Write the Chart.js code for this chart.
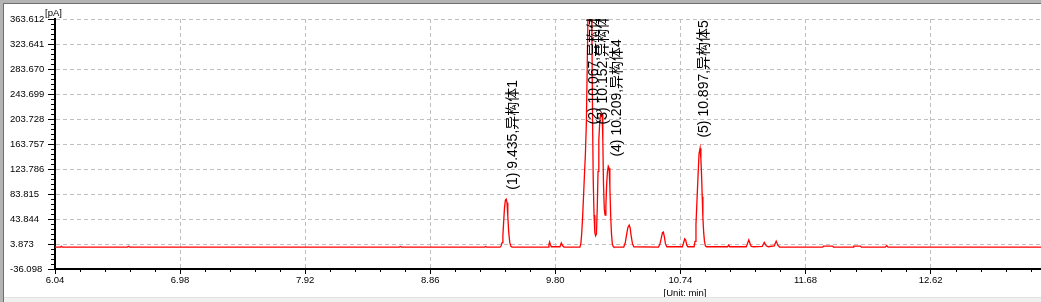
<!DOCTYPE html>
<html><head><meta charset="utf-8">
<script src="https://cdn.jsdelivr.net/npm/chart.js@4/dist/chart.umd.min.js"></script>
<style>
html,body{margin:0;padding:0;background:#fff;}
#wrap{position:relative;width:1041px;height:302px;overflow:hidden;background:#fff;}
canvas{position:absolute;left:0;top:0;}
.f{position:absolute;}
</style></head><body>
<div id="wrap">
<canvas id="c" width="1041" height="302"></canvas>
<div class="f" style="left:0;top:0;width:1041px;height:3px;background:#b4b4b4"></div>
<div class="f" style="left:0;top:3px;width:1041px;height:1px;background:#6e6e6e"></div>
<div class="f" style="left:0;top:0;width:3px;height:302px;background:#b4b4b4"></div>
<div class="f" style="left:3px;top:3px;width:1px;height:299px;background:#6e6e6e"></div>
<div class="f" style="left:4px;top:297px;width:1037px;height:1px;background:#e3e3e3"></div>
<div class="f" style="left:4px;top:298px;width:1037px;height:4px;background:#f0f0f0"></div>
</div>
<script>
// ---- data ----
const times = [6.040, 6.080, 6.087, 6.094, 6.585, 6.592, 6.600, 8.628, 8.636, 8.644, 9.268, 9.276, 9.284,
  9.385, 9.393, 9.400, 9.406, 9.412, 9.418, 9.425, 9.431, 9.437, 9.443, 9.450, 9.458, 9.466, 9.475,
  9.745, 9.752, 9.757, 9.763, 9.770, 9.835, 9.845, 9.855, 9.865,
  9.985, 9.992, 9.998, 10.005, 10.012, 10.019, 10.026, 10.033, 10.040, 10.046, 10.052, 10.058, 10.064, 10.070, 10.075, 10.080, 10.085, 10.091, 10.097, 10.103, 10.109,
  10.115, 10.121, 10.127, 10.134, 10.140, 10.146, 10.152, 10.157, 10.162, 10.168, 10.174, 10.180, 10.186, 10.192, 10.198, 10.204, 10.210, 10.216, 10.222, 10.228, 10.234, 10.240,
  10.314, 10.325, 10.335, 10.345, 10.355, 10.362, 10.370, 10.380, 10.390,
  10.575, 10.585, 10.595, 10.605, 10.612, 10.620, 10.628, 10.638,
  10.755, 10.763, 10.772, 10.780, 10.788, 10.796,
  10.843, 10.850, 10.857, 10.864, 10.872, 10.880, 10.888, 10.894, 10.899, 10.904, 10.909, 10.915, 10.921, 10.928, 10.936,
  11.095, 11.103, 11.111,
  11.235, 11.245, 11.254, 11.263, 11.272, 11.290, 11.355, 11.370, 11.385, 11.400, 11.445, 11.460, 11.472, 11.485,
  11.810, 11.815, 11.883, 11.890, 12.038, 12.043, 12.094, 12.100, 12.280, 12.290, 12.300, 13.450];
const signal = [-1.0, -1.0, 0.2, -1.0, -1.0, 0.2, -1.0, -1.0, 0.0, -1.0, -1.0, 0.0, -1.0,
  -1.0, 1, 6, 18, 40, 62, 74, 75.5, 70, 48, 22, 6, 0, -1.0,
  -1.0, 3, 7, 3, -0.5, -0.5, 5.5, 1, -1.0,
  -1.0, 5, 20, 46, 80, 115, 147, 195, 290, 380, 430, 440, 430, 400, 340, 200, 105, 50, 22, 17, 20,
  60, 120, 170, 200, 210, 214, 212, 170, 100, 60, 50, 65, 100, 120, 128, 125, 95, 50, 20, 5, 0, -1.0,
  -1.0, 5, 18, 30, 34, 30, 17, 4, -0.5,
  -1.0, 3, 12, 22, 23, 15, 4, -0.5,
  -0.5, 5, 12, 10, 2, -0.5,
  -0.5, 8, 35, 70, 110, 148, 157, 140, 115, 80, 46, 22, 8, 1, -0.5,
  -0.5, 2, -0.5,
  -0.5, 5, 10.5, 5, 0, -0.5, 0, 6.5, 1, -0.5, 1, 8.5, 2, -1.0,
  -1.0, 0.6, 0.6, -1.0, -1.0, 0.6, 0.6, -1.0, -1.0, 1.5, -1.0, -1.0];

const yTickLabels = ['-36.098', '3.873', '43.844', '83.815', '123.786', '163.757', '203.728', '243.699', '283.670', '323.641', '363.612'];
const xTickLabels = ['6.04', '6.98', '7.92', '8.86', '9.80', '10.74', '11.68', '12.62'];

const peakLabels = ['(1) 9.435,异构体1', '(2) 10.067,异构体2', '(3) 10.152,异构体3', '(4) 10.209,异构体4', '(5) 10.897,异构体5'];
const peakLabelTimes = [9.428, 10.039, 10.107, 10.212, 10.866];
const peakLabelValues = [90.8, 194.9, 194.9, 143.6, 174.0];

const X_MIN = 6.04, X_MAX = 13.45, Y_MIN = -36.098, Y_MAX = 363.612;
const Y_STEP = 39.971, X_STEP = 0.94;

const points = times.map((t, i) => ({x: t, y: signal[i]}));
const FONT = '"Liberation Sans", "Noto Sans CJK SC", sans-serif';

const decor = {
  id: 'decor',
  afterDatasetsDraw(chart) {
    const ctx = chart.ctx, a = chart.chartArea, xs = chart.scales.x, ys = chart.scales.y;
    ctx.save();
    ctx.beginPath();
    ctx.rect(a.left, a.top, a.right - a.left, a.bottom - a.top);
    ctx.clip();
    ctx.font = '14px ' + FONT;
    ctx.fillStyle = '#000';
    ctx.textAlign = 'left';
    ctx.textBaseline = 'top';
    peakLabels.forEach((txt, i) => {
      ctx.save();
      ctx.translate(xs.getPixelForValue(peakLabelTimes[i]), ys.getPixelForValue(peakLabelValues[i]));
      ctx.rotate(-Math.PI / 2);
      ctx.fillText(txt, 0, 0);
      ctx.restore();
    });
    ctx.restore();
  },
  afterDraw(chart) {
    const ctx = chart.ctx, a = chart.chartArea, xs = chart.scales.x, ys = chart.scales.y;
    ctx.save();
    ctx.strokeStyle = '#000';
    ctx.lineWidth = 1;
    ctx.beginPath();
    for (let k = 0; k <= 50; k++) {
      if (k % 5 === 0) continue;
      const y = Math.round(ys.getPixelForValue(Y_MIN + k * Y_STEP / 5)) + 0.5;
      ctx.moveTo(a.left - 4, y); ctx.lineTo(a.left, y);
    }
    const xstep = X_STEP / 5;
    for (let k = 0; X_MIN + k * xstep <= X_MAX + 1e-9; k++) {
      if (k % 5 === 0) continue;
      const x = Math.round(xs.getPixelForValue(X_MIN + k * xstep)) + 0.5;
      ctx.moveTo(x, a.bottom); ctx.lineTo(x, a.bottom + 3);
    }
    ctx.stroke();
    ctx.fillStyle = '#000';
    ctx.font = '9.5px ' + FONT;
    ctx.textAlign = 'left';
    ctx.textBaseline = 'alphabetic';
    ctx.fillText('[pA]', 45, 16);
    ctx.textAlign = 'center';
    ctx.fillText('[Unit: min]', 685, 296);
    ctx.restore();
  }
};

new Chart(document.getElementById('c'), {
  type: 'line',
  data: {
    datasets: [{
      data: points,
      borderColor: '#ff0000',
      borderWidth: 1.3,
      pointRadius: 0,
      tension: 0,
      fill: false
    }]
  },
  options: {
    responsive: false,
    animation: false,
    devicePixelRatio: 1,
    layout: {padding: {left: 10, top: 19, right: 0, bottom: 0}},
    plugins: {legend: {display: false}, tooltip: {enabled: false}},
    scales: {
      x: {
        type: 'linear',
        min: X_MIN, max: X_MAX,
        afterBuildTicks(scale) {
          scale.ticks = xTickLabels.map((l, i) => ({value: X_MIN + i * X_STEP}));
        },
        afterFit(scale) { scale.height = 33; },
        ticks: {
          autoSkip: false, maxRotation: 0, minRotation: 0, padding: 1,
          color: '#000', font: {family: FONT, size: 9.5},
          callback: (v, i) => xTickLabels[i]
        },
        grid: {color: '#c0c0c0', lineWidth: 1, tickLength: 5, tickColor: '#000', tickWidth: 1, tickBorderDash: []},
        border: {display: true, color: '#000', width: 2, dash: [4, 3]}
      },
      y: {
        type: 'linear',
        min: Y_MIN, max: Y_MAX,
        afterBuildTicks(scale) {
          scale.ticks = yTickLabels.map((l, i) => ({value: Y_MIN + i * Y_STEP}));
        },
        afterFit(scale) { scale.width = 45; },
        ticks: {
          autoSkip: false, crossAlign: 'far', padding: 2,
          color: '#000', font: {family: FONT, size: 9.5},
          callback: (v, i) => yTickLabels[i]
        },
        grid: {color: '#c0c0c0', lineWidth: 1, tickLength: 7, tickColor: '#000', tickWidth: 1, tickBorderDash: []},
        border: {display: true, color: '#000', width: 2, dash: [4, 3]}
      }
    }
  },
  plugins: [decor]
});
</script>
</body></html>
